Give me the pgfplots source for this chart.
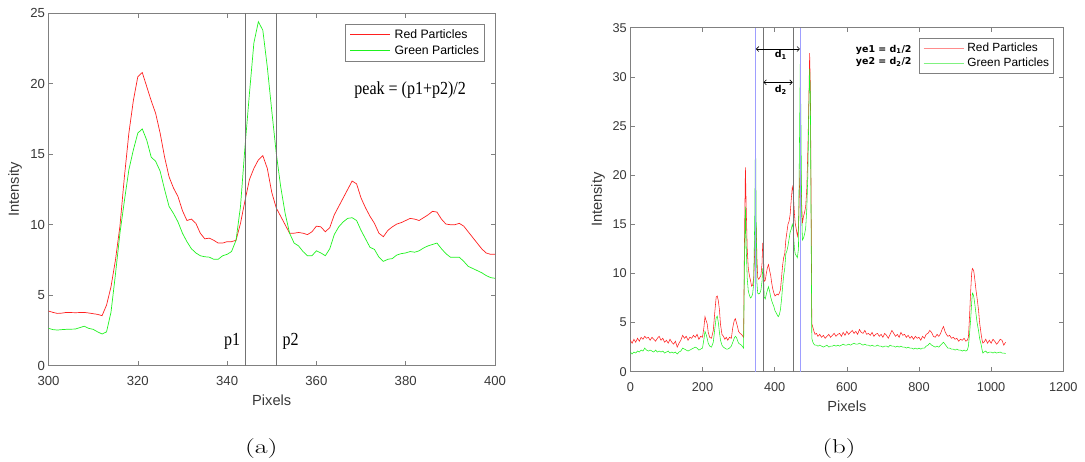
\documentclass[border=0pt]{standalone}
\usepackage{fontspec}
\usepackage{graphicx}
\usepackage{pgfplots}
\pgfplotsset{compat=1.18}
\usetikzlibrary{arrows.meta}
\newfontfamily\arialf{Liberation Sans}
\newfontfamily\timesf{Liberation Serif}
\newfontfamily\dejavu{DejaVu Sans}
\definecolor{mred}{rgb}{1,0.12,0.12}
\definecolor{mgreen}{rgb}{0.12,0.95,0.12}
\definecolor{pred}{rgb}{1,0.55,0.55}
\definecolor{pgreen}{rgb}{0.5,0.95,0.5}
\definecolor{mblue}{rgb}{0.62,0.62,1}
\definecolor{axgray}{rgb}{0.5,0.5,0.5}
\definecolor{txtgray}{rgb}{0.22,0.22,0.22}
\definecolor{vgray}{rgb}{0.45,0.45,0.45}

\pgfplotstableread{
x y
300 3.88
301 3.78
302 3.71
303 3.73
304 3.78
305 3.77
306 3.76
307 3.77
308 3.78
309 3.74
310 3.69
311 3.64
312 3.55
313 4.3
314 5.6
315 7.5
316 9.9
317 13.4
318 16.5
319 18.8
320 20.5
321 20.8
322 19.8
323 18.8
324 17.9
325 16.5
326 14.8
327 13.4
328 12.6
329 12.0
330 11.0
331 10.3
332 10.4
333 10.1
334 9.4
335 9.0
336 9.05
337 8.9
338 8.7
339 8.7
340 8.8
341 8.8
342 8.9
343 10.1
344 11.7
345 13.2
346 14.0
347 14.6
348 14.9
349 14.0
350 12.3
351 11.2
352 10.6
353 10.0
354 9.4
355 9.4
356 9.45
357 9.4
358 9.3
359 9.5
360 9.9
361 9.85
362 9.5
363 9.8
364 10.7
365 11.3
366 11.9
367 12.5
368 13.1
369 12.9
370 11.9
371 11.2
372 10.6
373 10.1
374 9.4
375 9.15
376 9.6
377 9.85
378 10.05
379 10.15
380 10.3
381 10.45
382 10.4
383 10.3
384 10.5
385 10.7
386 10.95
387 10.9
388 10.4
389 10.05
390 10.0
391 10.0
392 10.1
393 9.9
394 9.5
395 9.1
396 8.7
397 8.3
398 8.0
399 7.9
400 7.9
}\redA

\pgfplotstableread{
x y
300 2.65
301 2.56
302 2.53
303 2.56
304 2.58
305 2.59
306 2.6
307 2.7
308 2.8
309 2.65
310 2.58
311 2.4
312 2.25
313 2.4
314 3.8
315 6.5
316 9.4
317 11.7
318 13.9
319 15.3
320 16.5
321 16.8
322 16.0
323 14.8
324 14.5
325 13.8
326 12.5
327 11.3
328 10.8
329 10.2
330 9.4
331 8.8
332 8.3
333 8.0
334 7.8
335 7.73
336 7.7
337 7.55
338 7.55
339 7.8
340 7.9
341 8.1
342 8.9
343 11.3
344 15.5
345 19.3
346 22.9
347 24.4
348 23.8
349 21.2
350 18.1
351 15.1
352 12.7
353 10.8
354 9.4
355 8.7
356 8.5
357 8.1
358 7.8
359 7.8
360 8.15
361 8.0
362 7.8
363 8.3
364 9.3
365 9.85
366 10.2
367 10.45
368 10.5
369 10.3
370 9.6
371 9.0
372 8.4
373 8.25
374 7.7
375 7.4
376 7.55
377 7.6
378 7.85
379 7.95
380 8.0
381 8.1
382 8.05
383 8.15
384 8.35
385 8.5
386 8.6
387 8.7
388 8.3
389 7.95
390 7.7
391 7.7
392 7.7
393 7.4
394 7.05
395 6.9
396 6.75
397 6.6
398 6.4
399 6.25
400 6.2
}\greenA

\pgfplotstableread{
x y
0 3.2
5 2.9
10 3.3
15 3.0
20 3.4
25 3.1
30 3.5
35 3.3
40 3.6
45 3.4
50 3.5
55 3.2
60 3.5
65 3.3
70 3.1
75 3.4
80 3.6
85 3.2
90 3.4
95 3.0
100 3.2
105 2.9
110 3.3
115 3.0
120 2.8
125 3.1
130 2.5
135 2.9
140 3.2
145 3.7
150 3.4
155 3.6
160 3.2
165 3.5
170 3.4
175 3.7
180 3.5
185 3.8
190 3.3
195 3.6
200 3.5
204 4.5
207 5.6
210 5.2
213 4.9
216 4.0
220 3.5
225 3.4
230 4.2
234 6.0
238 7.6
241 7.7
244 7.2
247 6.3
250 4.8
254 3.8
258 3.6
262 3.3
266 3.5
270 3.2
275 3.5
280 3.4
284 4.5
288 5.2
291 5.4
294 5.0
297 4.6
300 4.1
304 3.9
308 3.8
312 3.6
314 3.5
316 12.0
319 20.8
321 17.0
324 12.5
327 10.5
330 9.8
333 9.3
336 8.7
339 8.8
342 9.5
345 12.5
347 15.0
349 14.6
351 11.5
353 9.6
356 9.4
359 9.6
362 9.8
365 11.0
367 13.1
369 12.0
371 9.2
374 9.3
377 10.0
380 10.6
383 10.9
386 10.3
389 9.8
392 9.0
395 8.4
398 8.0
401 7.7
404 7.8
407 7.9
410 7.8
413 8.0
416 8.3
419 9.5
422 10.8
425 11.6
428 12.0
431 13.4
434 14.2
437 15.0
440 15.3
443 16.0
446 17.5
449 18.8
451 18.5
453 17.2
455 16.0
457 15.1
460 14.5
463 13.8
466 14.5
469 19.0
471 21.2
473 20.0
475 17.0
477 15.1
480 15.8
483 16.2
486 16.8
489 18.5
492 22.5
495 28.0
497 32.4
499 29.0
501 18.0
503 4.9
506 4.5
509 4.1
512 3.8
516 3.9
520 3.6
525 3.8
530 3.5
535 3.7
540 3.4
545 3.6
550 3.8
555 3.5
560 3.7
565 3.9
570 3.6
575 3.8
580 3.9
585 3.6
590 4.0
595 3.7
600 4.1
605 3.8
610 4.0
615 4.2
620 3.9
625 4.1
630 3.8
635 4.3
640 4.0
645 3.9
650 4.2
655 3.8
660 3.9
665 3.7
670 4.0
675 3.6
680 3.8
685 3.9
690 3.6
695 3.8
700 3.5
705 3.9
710 3.7
715 3.4
720 3.8
725 4.2
730 3.9
735 3.6
740 3.8
745 3.5
750 4.0
755 3.7
760 3.8
765 3.5
770 3.7
775 3.4
780 3.6
785 3.3
790 3.6
795 3.4
800 3.5
805 3.2
810 3.6
815 3.4
820 3.8
825 3.9
830 4.2
835 4.0
840 3.6
845 3.5
850 3.8
855 3.6
860 3.9
865 4.4
868 4.6
872 4.1
876 3.8
880 3.6
885 3.7
890 3.4
895 3.5
900 3.3
905 3.4
910 3.1
915 3.3
920 3.2
925 3.4
930 3.1
934 3.2
937 3.5
940 5.5
943 8.0
946 10.0
948 10.5
950 10.4
952 10.2
955 9.3
958 8.3
961 7.5
965 6.3
968 5.0
972 3.9
975 3.2
977 2.9
980 3.0
985 3.3
990 2.9
995 3.2
1000 2.9
1005 3.3
1010 3.1
1015 2.8
1020 3.0
1025 3.3
1030 3.2
1035 2.7
1040 3.0
}\redB

\pgfplotstableread{
x y
0 2.0
5 1.8
10 2.0
15 1.9
20 2.1
25 2.0
30 2.2
35 2.1
40 2.4
45 2.2
50 2.1
55 2.2
60 2.1
65 2.0
70 2.2
75 2.0
80 2.1
85 2.0
90 2.1
95 1.9
100 2.0
105 2.1
110 1.9
115 2.0
120 1.9
125 2.0
130 1.8
135 2.0
140 2.1
145 2.4
150 2.3
155 2.2
160 2.1
165 2.2
170 2.3
175 2.4
180 2.5
185 2.4
190 2.2
195 2.3
200 2.4
204 3.3
207 4.1
210 3.8
213 3.4
216 2.9
220 2.6
225 2.5
230 3.0
234 4.3
238 5.5
241 5.65
244 5.0
247 4.0
250 3.2
254 2.7
258 2.5
262 2.4
266 2.3
270 2.3
275 2.4
280 2.6
284 3.0
288 3.4
291 3.6
294 3.5
297 3.2
300 2.9
304 2.8
308 2.7
312 2.5
314 2.4
316 10.0
319 16.8
321 13.0
324 9.5
327 8.2
330 7.8
333 7.5
336 7.6
339 7.9
342 9.0
345 16.0
347 24.4
349 15.0
351 9.0
353 8.0
356 7.9
359 8.0
362 8.3
365 9.2
367 10.5
369 9.8
371 7.6
374 7.4
377 7.9
380 8.3
383 8.65
386 8.2
389 7.6
392 7.2
395 6.9
398 6.6
401 6.2
404 6.0
407 5.8
410 5.6
413 5.8
416 6.3
419 7.3
422 8.6
425 9.8
428 10.5
431 12.0
434 12.3
437 12.8
440 13.5
443 14.2
446 14.5
449 15.0
451 14.7
453 13.5
455 12.5
457 12.0
460 11.8
463 11.6
466 12.5
469 24.0
471 31.3
473 25.0
475 16.0
477 13.4
480 13.6
483 14.0
486 14.6
489 16.5
492 20.0
495 27.0
497 30.8
499 28.0
501 15.0
503 3.4
506 3.0
509 2.8
512 2.7
516 2.7
520 2.6
525 2.7
530 2.6
535 2.5
540 2.6
545 2.7
550 2.5
555 2.6
560 2.6
565 2.7
570 2.6
575 2.7
580 2.6
585 2.7
590 2.8
595 2.7
600 2.7
605 2.8
610 2.7
615 2.8
620 2.9
625 2.8
630 2.8
635 2.9
640 2.8
645 2.7
650 2.8
655 2.7
660 2.7
665 2.6
670 2.7
675 2.6
680 2.6
685 2.7
690 2.6
695 2.6
700 2.5
705 2.6
710 2.6
715 2.5
720 2.7
725 2.6
730 2.6
735 2.5
740 2.6
745 2.5
750 2.6
755 2.5
760 2.5
765 2.4
770 2.5
775 2.4
780 2.4
785 2.3
790 2.4
795 2.3
800 2.4
805 2.3
810 2.4
815 2.4
820 2.6
825 2.7
830 2.9
835 2.7
840 2.6
845 2.5
850 2.6
855 2.5
860 2.7
865 2.9
868 3.0
872 2.8
876 2.6
880 2.4
885 2.4
890 2.3
895 2.3
900 2.2
905 2.3
910 2.2
915 2.2
920 2.1
925 2.2
930 2.1
934 2.2
937 2.6
940 3.8
943 5.2
946 7.0
948 8.0
950 7.9
952 7.6
955 6.8
958 5.9
961 5.0
965 4.2
968 3.4
972 2.8
975 2.2
977 1.9
980 2.0
985 2.1
990 1.9
995 2.0
1000 2.0
1005 1.9
1010 2.0
1015 1.9
1020 1.95
1025 2.0
1030 1.9
1035 1.9
1040 1.85
}\greenB

\pgfplotsset{
  mstyle/.style={
    scale only axis,
    anchor=south west,
    axis line style={draw=axgray, line width=0.6bp},
    every tick/.style={draw=axgray, line width=0.6bp},
    major tick length=4.5bp,
    tick align=inside,
    /pgf/number format/assume math mode=true,
    /pgf/number format/1000 sep={},
    tick label style={font=\arialf\fontsize{13.2}{15}\selectfont, text=txtgray},
    xticklabel style={anchor=center, yshift=-15bp},
    label style={font=\arialf\fontsize{14.7}{17}\selectfont, text=txtgray},
    legend cell align=left,
    legend image code/.code={\draw[#1] (0bp,0bp) -- (40bp,0bp);},
  }
}

\begin{document}
\begin{tikzpicture}
\useasboundingbox (0,0) rectangle (1085bp,462bp);

\begin{axis}[mstyle,
  at={(48.5bp,96.3bp)}, width=446.5bp, height=352.4bp,
  xmin=300, xmax=400, ymin=0, ymax=25,
  xtick={300,320,...,400}, ytick={0,5,...,25},
  xlabel={Pixels}, ylabel={Intensity},
  xlabel style={at={(axis description cs:0.5,-0.0988)}, anchor=center},
  ylabel style={at={(axis description cs:-0.0750,0.5)}, anchor=center},
  legend style={at={(1,1)}, anchor=north east, xshift=-11bp, yshift=-10.7bp,
    draw=axgray, font=\arialf\fontsize{12.3}{14}\selectfont,
    inner xsep=4.7bp, inner ysep=4.5bp, column sep=3.9bp, row sep=4bp,
    nodes={inner sep=0bp, text height=10bp, text depth=2bp}},
]
\addplot[mred, line width=0.7bp] table {\redA};
\addlegendentry{Red Particles}
\addplot[mgreen, line width=0.7bp] table {\greenA};
\addlegendentry{Green Particles}
\addplot[vgray, line width=0.8bp, forget plot] coordinates {(344,0) (344,25)};
\addplot[vgray, line width=0.8bp, forget plot] coordinates {(351,0) (351,25)};
\node[anchor=base east, inner sep=0pt, xshift=-4.5bp, font=\timesf\fontsize{18.5}{20}\selectfont] at (axis cs:344,1.4) {\scalebox{0.87}[1]{p1}};
\node[anchor=base west, inner sep=0pt, xshift=6.2bp, font=\timesf\fontsize{18.5}{20}\selectfont] at (axis cs:351,1.4) {\scalebox{0.87}[1]{p2}};
\node[anchor=base, inner sep=0pt, font=\timesf\fontsize{18.5}{20}\selectfont] at (axis cs:381,19.23) {\scalebox{0.87}[1]{peak = (p1+p2)/2}};
\end{axis}

\begin{axis}[mstyle,
  at={(630.3bp,90.3bp)}, width=433bp, height=344bp,
  xmin=0, xmax=1200, ymin=0, ymax=35,
  xtick={0,200,...,1200}, ytick={0,5,...,35},
  tick label style={font=\arialf\fontsize{12.8}{15}\selectfont, text=txtgray},
  xlabel={Pixels}, ylabel={Intensity},
  xlabel style={at={(axis description cs:0.5,-0.0991)}, anchor=center},
  ylabel style={at={(axis description cs:-0.0746,0.5)}, anchor=center},
  legend style={at={(1,1)}, anchor=north east, xshift=-10bp, yshift=-10bp,
    draw=axgray, font=\arialf\fontsize{11.9}{14}\selectfont,
    inner xsep=4bp, inner ysep=4.5bp, column sep=3.4bp, row sep=3.5bp,
    nodes={inner sep=0bp, text height=9.5bp, text depth=2bp}},
]
\addplot[mred, line width=0.55bp, forget plot] table {\redB};
\addplot[mgreen, line width=0.55bp, forget plot] table {\greenB};
\addlegendimage{pred, line width=1bp}
\addlegendentry{Red Particles}
\addlegendimage{pgreen, line width=1bp}
\addlegendentry{Green Particles}
\addplot[mblue, line width=1.2bp, forget plot] coordinates {(347,0) (347,35)};
\addplot[mblue, line width=1.2bp, forget plot] coordinates {(471,0) (471,35)};
\addplot[vgray, line width=0.7bp, forget plot] coordinates {(368,0) (368,35)};
\addplot[vgray, line width=0.7bp, forget plot] coordinates {(451,0) (451,35)};
\draw[{Straight Barb[length=2.5bp,width=5bp]}-{Straight Barb[length=2.5bp,width=5bp]}, line width=0.6bp] (axis cs:348,32.83) -- (axis cs:470,32.83);
\draw[{Straight Barb[length=2.5bp,width=5bp]}-{Straight Barb[length=2.5bp,width=5bp]}, line width=0.6bp] (axis cs:369,29.44) -- (axis cs:450,29.44);
\node[inner sep=0pt, font=\dejavu\bfseries\fontsize{9.5}{11}\selectfont] at (axis cs:417,32.2) {d\textsubscript{1}};
\node[inner sep=0pt, font=\dejavu\bfseries\fontsize{9.5}{11}\selectfont] at (axis cs:417,28.66) {d\textsubscript{2}};
\node[anchor=east, inner sep=0pt, font=\dejavu\bfseries\fontsize{9.5}{11}\selectfont] at (axis cs:780,32.78) {ye1 = d\textsubscript{1}/2};
\node[anchor=east, inner sep=0pt, font=\dejavu\bfseries\fontsize{9.5}{11}\selectfont] at (axis cs:780,31.54) {ye2 = d\textsubscript{2}/2};
\end{axis}

\node[inner sep=0pt, font=\fontsize{20}{24}\selectfont] at (261.3bp,13.5bp) {\scalebox{1.4}[1]{(a)}};
\node[inner sep=0pt, font=\fontsize{20}{24}\selectfont] at (839bp,13.5bp) {\scalebox{1.35}[1]{(b)}};
\end{tikzpicture}
\end{document}
